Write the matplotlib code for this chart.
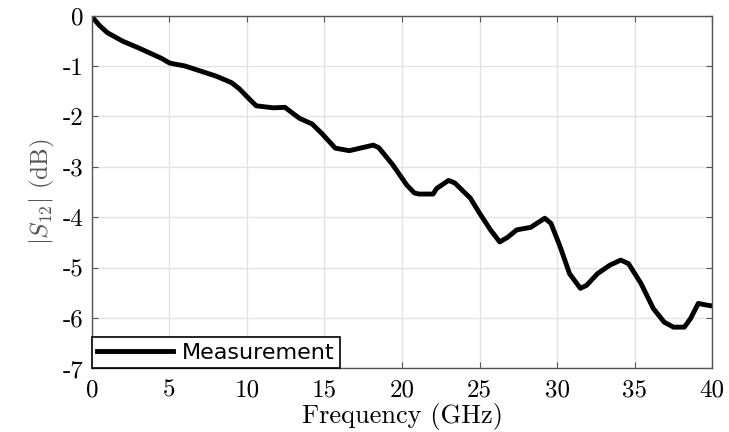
import matplotlib.pyplot as plt

freq_ghz = [0, 0.5, 1, 2, 3, 4, 4.5, 5, 5.3, 6, 7, 8, 9, 9.5, 10.2, 10.6, 11.7,
            12.45, 13, 13.4, 14.2, 14.8, 15.7, 16.6, 17.3, 18.15, 18.5, 19.4,
            20.3, 20.8, 21.1, 22.0, 22.23, 23.0, 23.4, 24.4, 25.0, 25.7, 26.3,
            26.8, 27.4, 28.3, 28.7, 29.2, 29.6, 30.2, 30.8, 31.5, 31.9, 32.6,
            33.4, 34.1, 34.6, 35.4, 36.2, 36.9, 37.5, 38.2, 38.6, 39.1, 39.6, 40]
s12_db = [-0.02, -0.2, -0.34, -0.51, -0.64, -0.78, -0.85, -0.94, -0.96, -1.0,
          -1.1, -1.2, -1.33, -1.45, -1.67, -1.79, -1.83, -1.82, -1.95, -2.04,
          -2.15, -2.33, -2.63, -2.68, -2.63, -2.57, -2.62, -2.96, -3.36, -3.52,
          -3.54, -3.54, -3.43, -3.27, -3.32, -3.62, -3.92, -4.25, -4.49, -4.4,
          -4.25, -4.2, -4.12, -4.02, -4.12, -4.59, -5.12, -5.41, -5.35, -5.12,
          -4.95, -4.85, -4.92, -5.31, -5.81, -6.08, -6.18, -6.18, -6.01, -5.71,
          -5.74, -5.76]

x_ticks = list(range(0, 41, 5))
y_ticks = list(range(-7, 1))

plt.rcParams.update({
    "mathtext.fontset": "cm",
    "axes.unicode_minus": False,
    "font.size": 14,
})

fig = plt.figure(figsize=(7.29, 4.32), dpi=100)
ax = fig.add_axes([0.126, 0.147, 0.851, 0.817])

ax.plot(freq_ghz, s12_db, color="black", linewidth=3.5, label="Measurement",
        solid_joinstyle="round")

ax.set_xlim(0, 40)
ax.set_ylim(-7, 0)
ax.set_xticks(x_ticks)
ax.set_yticks(y_ticks)
ax.set_xticklabels([str(t) for t in x_ticks], family="cmr10", fontsize=18)
ax.set_yticklabels([str(t) for t in y_ticks], family="cmr10", fontsize=18)

ax.set_xlabel("Frequency (GHz)", family="cmr10", fontsize=19, labelpad=1)
ax.set_ylabel(r"$|S_{12}|$ $\mathrm{(dB)}$", fontsize=18, color="#555555", labelpad=4)

ax.grid(True, color="#e3e3e3", linewidth=1.0)
ax.set_axisbelow(True)
for sp in ax.spines.values():
    sp.set_color("#555555")
    sp.set_linewidth(1.0)
ax.tick_params(direction="in", length=4, color="#555555", pad=6, top=True, right=True,
               labeltop=False, labelright=False)
ax.tick_params(axis="x", pad=8)

leg = ax.legend(loc="lower left", borderaxespad=0, fancybox=False, framealpha=1,
                edgecolor="black", prop={"family": "DejaVu Sans", "size": 16},
                handlelength=3.4, handletextpad=0.4, borderpad=0.25)
leg.get_frame().set_linewidth(1.2)

fig.savefig("out.png", dpi=100)
